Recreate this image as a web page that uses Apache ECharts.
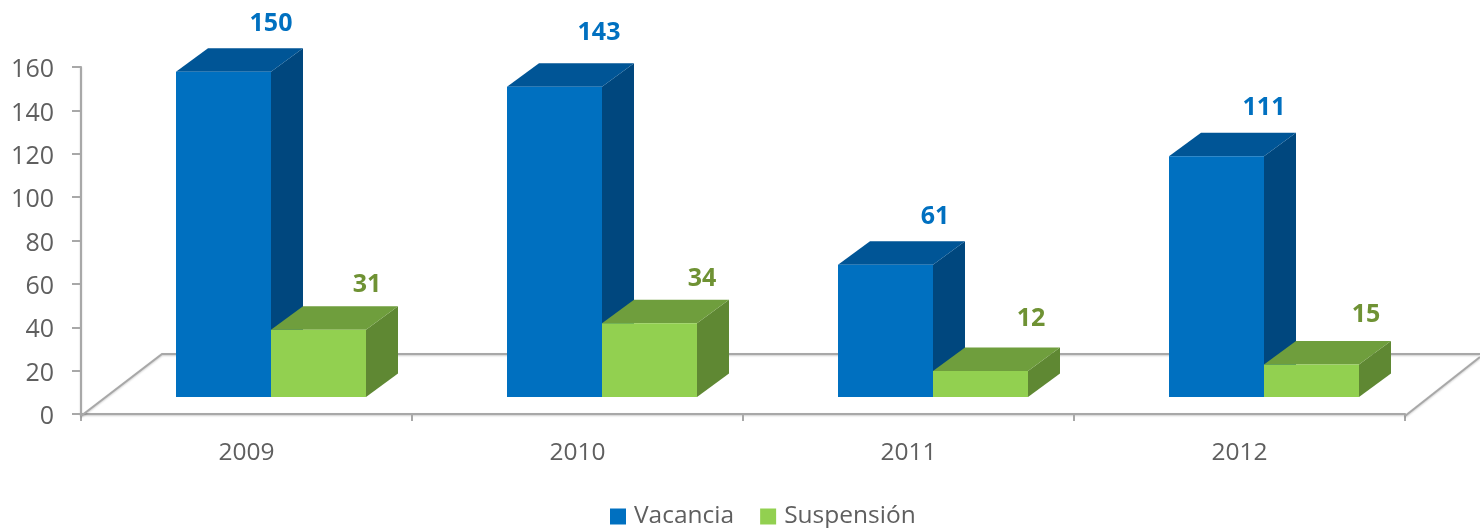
<!DOCTYPE html>
<html>
<head>
<meta charset="utf-8">
<style>
    html, body { margin: 0; padding: 0; background: #fff; }
    #chart { width: 1480px; height: 528px; }
</style>
</head>
<body>
<div id="chart"></div>
<script src="https://cdn.jsdelivr.net/npm/echarts@6/dist/echarts.min.js"></script>
<script>
const years = ["2009", "2010", "2011", "2012"];
const vacancia = [150, 143, 61, 111];
const suspension = [31, 34, 12, 15];
const yTicks = [0, 160, 20];

// hand placed label nudges from the original, in px [dx, dy]
const vacanciaNudge = [[0, 0], [-3, -6], [2, 0], [0, -1]];
const suspensionNudge = [[1, 3], [5, 3], [3, -5], [7, -2]];

const FONT = "Open Sans";
const TEXT_COLOR = "#5f5f5f";
const AXIS_COLOR = "#a8a8a8";
const DEPTH_X = 32;
const DEPTH_Y = 23.5;
const LIFT = 17; // bars stand this far above the zero line
const BAR_WIDTH = 95;
const GROUP_SHIFT = 24.5; // pair centre sits right of the band centre

const chart = echarts.init(document.getElementById("chart"));

// one 3D bar: front, top and side faces
function bar3d(seriesOffset, colors, nudges) {
    return function (params, api) {
        const cat = api.value(0);
        const top = api.coord([cat, api.value(1)]);
        const base = api.coord([cat, 0]);
        const x = base[0] + GROUP_SHIFT + seriesOffset * BAR_WIDTH;
        const y0 = base[1] - LIFT;
        const y1 = top[1] - LIFT;
        const x1 = x + BAR_WIDTH;
        const nudge = nudges[params.dataIndex];
        return {
            type: "group",
            children: [
                {
                    type: "polygon",
                    shape: { points: [[x1, y1], [x1 + DEPTH_X, y1 - DEPTH_Y], [x1 + DEPTH_X, y0 - DEPTH_Y], [x1, y0]] },
                    style: { fill: colors.side },
                },
                {
                    type: "polygon",
                    shape: { points: [[x, y1], [x + DEPTH_X, y1 - DEPTH_Y], [x1 + DEPTH_X, y1 - DEPTH_Y], [x1, y1]] },
                    style: { fill: colors.top },
                },
                {
                    type: "rect",
                    shape: { x: x, y: y1, width: BAR_WIDTH, height: y0 - y1 },
                    style: { fill: colors.front },
                },
                {
                    type: "text",
                    x: x1 + nudge[0],
                    y: y1 - DEPTH_Y - 24 + nudge[1],
                    style: {
                        text: String(api.value(1)),
                        fill: colors.label,
                        font: "bold 25px '" + FONT + "'",
                        align: "center",
                        verticalAlign: "middle",
                    },
                },
            ],
        };
    };
}

// floor of the 3D box, behind the bars
function floor(params, api) {
    const band = api.size([1, 0])[0];
    const p = api.coord([0, 0]);
    const left = p[0] - band / 2;
    const right = left + band * years.length;
    const y = p[1] + 2;
    const style = {
        stroke: AXIS_COLOR,
        lineWidth: 2,
        fill: "none",
        shadowColor: "rgba(0,0,0,0.2)",
        shadowBlur: 2,
        shadowOffsetY: 1,
    };
    return {
        type: "group",
        children: [
            {
                type: "polyline",
                shape: { points: [[left, y], [left + 81, y - 62], [right + 75, y - 62]] },
                style: style,
            },
            {
                type: "line",
                shape: { x1: right, y1: y, x2: right + 75, y2: y - 59 },
                style: style,
            },
        ],
    };
}

const lineShadow = { color: AXIS_COLOR, width: 2, shadowColor: "rgba(0,0,0,0.2)", shadowBlur: 2, shadowOffsetY: 1 };

chart.setOption({
    animation: false,
    backgroundColor: "#fff",
    grid: { left: 81, width: 1324, top: 67, height: 347 },
    legend: {
        data: ["Vacancia", "Suspensión"],
        left: 605,
        top: 499,
        icon: "rect",
        itemWidth: 16,
        itemHeight: 16,
        itemGap: 26,
        textStyle: { color: TEXT_COLOR, fontFamily: FONT, fontSize: 24.5, padding: [0, 0, 0, 3] },
    },
    xAxis: {
        type: "category",
        data: years,
        offset: 2,
        axisLine: { lineStyle: lineShadow },
        axisTick: { show: true, interval: 0, alignWithLabel: false, length: 7, lineStyle: { color: AXIS_COLOR, width: 2 } },
        axisLabel: { color: TEXT_COLOR, fontFamily: FONT, fontSize: 24.5, margin: 25 },
    },
    yAxis: {
        type: "value",
        min: yTicks[0],
        max: yTicks[1],
        interval: yTicks[2],
        splitLine: { show: false },
        axisLine: { show: true, lineStyle: lineShadow },
        axisTick: { show: true, length: 9, lineStyle: { color: AXIS_COLOR, width: 2 } },
        // labels sit a little below their ticks in the original
        axisLabel: { color: TEXT_COLOR, fontFamily: FONT, fontSize: 25, margin: 27, verticalAlign: "top", lineHeight: 6 },
    },
    series: [
        {
            type: "custom",
            name: "floor",
            silent: true,
            z: 1,
            data: [[0, 0]],
            renderItem: floor,
        },
        {
            type: "custom",
            name: "Vacancia",
            z: 2,
            itemStyle: { color: "#0070c0" },
            encode: { x: 0, y: 1 },
            data: vacancia.map((v, i) => [i, v]),
            renderItem: bar3d(-1, { front: "#0070c0", top: "#005596", side: "#00477e", label: "#0070c0" }, vacanciaNudge),
        },
        {
            type: "custom",
            name: "Suspensión",
            z: 3,
            itemStyle: { color: "#92d050" },
            encode: { x: 0, y: 1 },
            data: suspension.map((v, i) => [i, v]),
            renderItem: bar3d(0, { front: "#92d050", top: "#6f9e3d", side: "#5f8833", label: "#6f9234" }, suspensionNudge),
        },
    ],
});
</script>
</body>
</html>
